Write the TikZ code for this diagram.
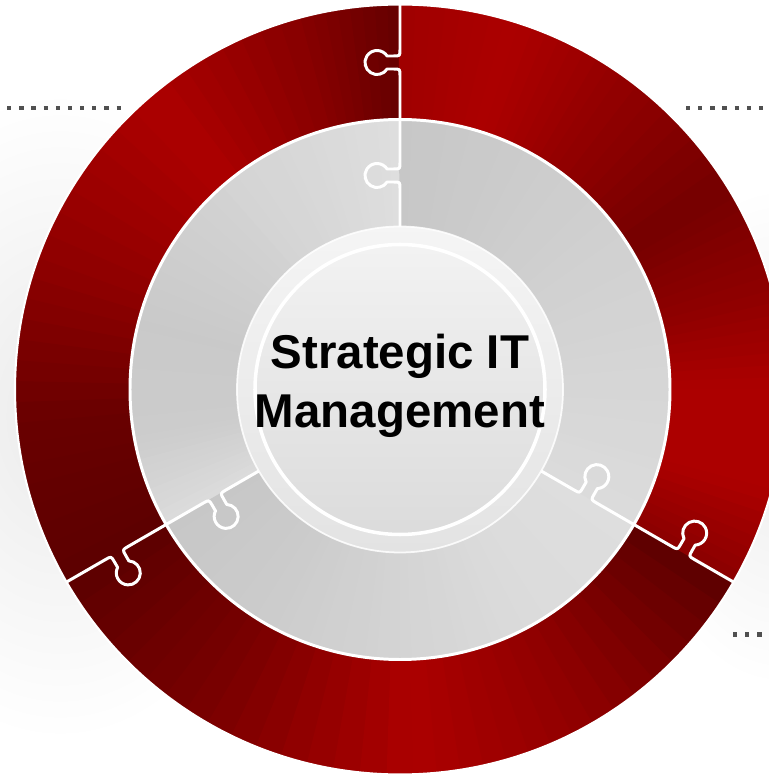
\documentclass[tikz,border=0pt]{standalone}
\usepackage{fontspec}
\setmainfont{Liberation Sans}
\definecolor{puzred}{RGB}{172,0,0}
\definecolor{puzdark}{RGB}{88,0,0}
\definecolor{dotgray}{RGB}{80,80,80}
\tikzset{
	seam/.style={white, line width=1.7pt, line join=round},
	dotline/.style={dotgray, line width=0.085cm, dash pattern=on 0.085cm off 0.158cm},
	tabat/.style={insert path={-- ({#1-0.26},0) .. controls ({#1-0.13},0) .. ({#1-0.13},0.13) -- ({#1-0.13},0.258) arc[start angle=-122.8, end angle=-417.2, radius=0.24] -- ({#1+0.13},0.13) .. controls ({#1+0.13},0) .. ({#1+0.26},0)}},
}
\begin{document}
\begin{tikzpicture}
		\def\rout{7.7};
		\def\rmid{5.4};
		\def\rin{3.26};
		\def\rcore{2.9};
		\coordinate (C) at (8.0,7.73);
		\useasboundingbox (0,0) rectangle (15.38,15.52);
		% faint background
		\shade[inner color=gray!16, outer color=white] (1.2,7.2) ellipse (4.5 and 6.5);
		\shade[inner color=gray!14, outer color=white] (15.6,6.8) ellipse (3 and 5);
		% red ring
		\foreach \a/\b/\ma/\mb in {90/105/15/55, 105/130/55/100, 130/160/100/65, 160/185/65/20, 185/210/20/5,
				210/240/5/40, 240/272/40/100, 272/300/100/65, 300/330/65/5,
				330/345/60/100, 345/360/100/100, 0/15/100/65, 15/32/65/35, 32/55/35/70, 55/72/70/100, 72/90/100/85}{
			\foreach \i in {0,...,7}{
				\pgfmathsetmacro\sa{\a+(\b-\a)*\i/8}
				\pgfmathsetmacro\sb{\a+(\b-\a)*(\i+1)/8+0.2}
				\pgfmathsetmacro\m{\ma+(\mb-\ma)*(\i+0.5)/8}
				\fill[puzred!\m!puzdark] ([shift={(\sa:\rmid)}]C) arc[start angle=\sa, end angle=\sb, radius=\rmid] -- ([shift={(\sb:\rout)}]C) arc[start angle=\sb, end angle=\sa, radius=\rout] -- cycle;
			}
		}
		% gray ring
		\foreach \a/\b/\ma/\mb in {90/120/87/84, 120/165/84/79, 165/190/79/80, 190/210/80/86,
				210/240/78/80, 240/270/80/83, 270/300/83/86, 300/330/86/87,
				330/360/86/84, 0/30/84/82, 30/60/82/80, 60/90/80/78}{
			\foreach \i in {0,...,11}{
				\pgfmathsetmacro\sa{\a+(\b-\a)*\i/12}
				\pgfmathsetmacro\sb{\a+(\b-\a)*(\i+1)/12+0.2}
				\pgfmathsetmacro\m{\ma+(\mb-\ma)*(\i+0.5)/12}
				\fill[white!\m!black] ([shift={(\sa:\rin)}]C) arc[start angle=\sa, end angle=\sb, radius=\rin] -- ([shift={(\sb:\rmid)}]C) arc[start angle=\sb, end angle=\sa, radius=\rmid] -- cycle;
			}
		}
		\draw[seam] (C) circle (\rmid);
		\draw[white, line width=1.2pt] (C) circle (\rout);
		% puzzle seams
		\foreach \t in {90,210,330}{
			\begin{scope}[shift={(C)}, rotate=\t]
				\draw[seam] (3.0,0) [tabat=4.28] [tabat=6.54] -- (\rout,0);
			\end{scope}
		}
		% centre disc
		\shade[top color=gray!8, bottom color=gray!22] (C) circle (\rin);
		\shade[top color=gray!10, bottom color=gray!28] (C) circle (\rcore);
		\draw[white, line width=2pt] (C) circle (\rcore);
		\draw[white, line width=1pt, opacity=0.85] (C) circle (\rin);
		\node[font=\bfseries\fontsize{27}{33.6}\selectfont, align=center, inner sep=0pt] (title) at (8.0,7.8) {Strategic IT\\Management};
		% dotted leaders
		\coordinate (dl1) at (-0.1,13.36);
		\coordinate (dl2) at (2.41,13.36);
		\coordinate (dr1) at (13.72,13.36);
		\coordinate (dr2) at (15.6,13.36);
		\coordinate (db1) at (14.66,2.83);
		\coordinate (db2) at (15.6,2.83);
		\draw[dotline] (dl1) -- (dl2);
		\draw[dotline] (dr1) -- (dr2);
		\draw[dotline] (db1) -- (db2);
		\end{tikzpicture}
\end{document}
